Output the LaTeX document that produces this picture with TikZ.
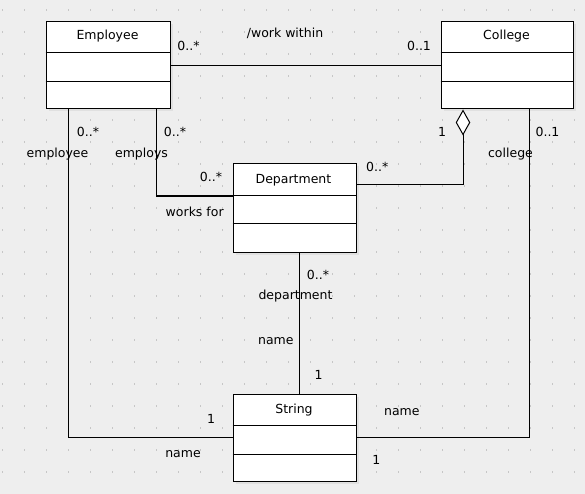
\documentclass[tikz,border=0pt]{standalone}
\usepackage{fontspec}
\setmainfont{DejaVu Sans}
\usetikzlibrary{arrows.meta,calc,shadows}
\definecolor{bg}{HTML}{EEEEEE}
\definecolor{dotc}{HTML}{C6C6C6}
\definecolor{shadowc}{HTML}{E0E0E0}
\begin{document}
\begin{tikzpicture}[x=1pt,y=-1pt,
 classbox/.style={draw,fill=white,line width=1pt,inner sep=0pt,anchor=north west,minimum width=124pt,
   drop shadow={shadow xshift=2.5pt,shadow yshift=-2.5pt,fill=shadowc,opacity=1}},
 txt/.style={font=\fontsize{12.5}{15}\selectfont,inner sep=0pt},
 conn/.style={line width=1pt},
 divider/.style={line width=1pt}]
\useasboundingbox[fill=bg] (0,0) rectangle (585,494);
\foreach \i in {0,...,26} \foreach \j in {0,...,21}
  \fill[dotc] ({2.5+22*\i-0.75},{10+22*\j-0.75}) rectangle ++(1.5,1.5);

% classes
\node[classbox,minimum height=87.5pt] (emp) at (45.5,21) {};
\node[classbox,minimum width=132pt,minimum height=87.5pt] (col) at (440.5,21) {};
\node[classbox,minimum width=123pt,minimum height=88.5pt] (dep) at (232.5,163.5) {};
\node[classbox,minimum width=123pt,minimum height=87.5pt] (str) at (232.5,393.5) {};

\foreach \b/\a/\c in {emp/31.5/60.5, col/31.5/60.5, dep/32/60, str/32/61}{
  \draw[divider] ([yshift=-\a pt]\b.north west) -- ([yshift=-\a pt]\b.north east);
  \draw[divider] ([yshift=-\c pt]\b.north west) -- ([yshift=-\c pt]\b.north east);
}

\node[txt] (empt) at (107.5,36) {Employee};
\node[txt] (colt) at (506.5,36) {College};
\node[txt] (dept) at (293.5,180) {Department};
\node[txt] (strt) at (294,410) {String};

% connectors
\draw[conn] (emp) -- (col);
\draw[conn] ([xshift=-39.5pt]emp.south) |- (str.west);
\draw[conn] ([xshift=48pt]emp.south) |- ([yshift=-32.5pt]dep.north west);
\draw[conn,{Diamond[fill=white,length=26pt,width=14.5pt,line width=1pt]}-] ([xshift=-44pt]col.south) |- ([yshift=-21.5pt]dep.north east);
\draw[conn] ([xshift=22pt]col.south) |- (str.east);
\draw[conn] ([xshift=4.5pt]dep.south) -- ([xshift=4.5pt]str.north);

% labels
\node[txt] (l1) at (285,33) {/work within};
\node[txt] (l2) at (188.5,46) {0..*};
\node[txt] (l3) at (419,46) {0..1};
\node[txt] (l4) at (88,132) {0..*};
\node[txt] (l5) at (57.5,154.5) {employee};
\node[txt] (l6) at (175,132) {0..*};
\node[txt] (l7) at (141.5,154.5) {employs};
\node[txt] (l8) at (211,177) {0..*};
\node[txt] (l9) at (194.7,212) {works for};
\node[txt] (l10) at (442,132) {1};
\node[txt] (l11) at (547.5,132) {0..1};
\node[txt] (l12) at (510.5,154.5) {college};
\node[txt] (l13) at (377.3,167) {0..*};
\node[txt] (l14) at (318,275) {0..*};
\node[txt] (l15) at (295.5,296) {department};
\node[txt] (l16) at (275.8,341) {name};
\node[txt] (l17) at (318.7,375) {1};
\node[txt] (l18) at (211,419) {1};
\node[txt] (l19) at (183,454) {name};
\node[txt] (l20) at (401.8,412.5) {name};
\node[txt] (l21) at (376.3,460) {1};
\end{tikzpicture}
\end{document}
